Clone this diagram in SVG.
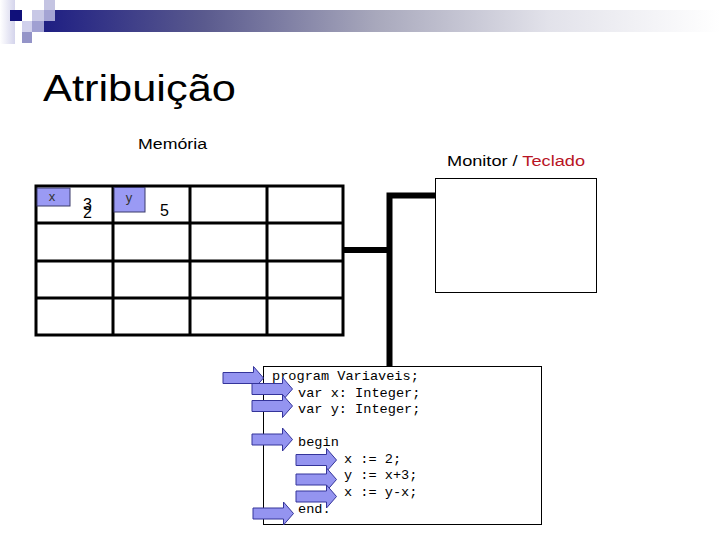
<svg xmlns="http://www.w3.org/2000/svg" xmlns:xlink="http://www.w3.org/1999/xlink" width="720" height="540" viewBox="0 0 720 540">
  <defs>
    <linearGradient id="barGrad" x1="0" y1="0" x2="1" y2="0">
      <stop offset="0" stop-color="#1a1a82"/>
      <stop offset="0.25" stop-color="#5a5a8e"/>
      <stop offset="0.5" stop-color="#a8a8bc"/>
      <stop offset="0.75" stop-color="#e2e2ea"/>
      <stop offset="1" stop-color="#ffffff"/>
    </linearGradient>
    <linearGradient id="stripGrad" x1="0" y1="0" x2="1" y2="0">
      <stop offset="0" stop-color="#ffffff"/>
      <stop offset="1" stop-color="#d4d4ec"/>
    </linearGradient>
    <path id="pcArrow" d="M0,-5.5 H30.5 V-11.5 L40.5,0 L30.5,11.5 V5.5 H0 Z"/>
  </defs>
  <style>
    .sans { font-family: "Liberation Sans", Arial, sans-serif; }
    .mono { font-family: "Liberation Mono", "Courier New", monospace; font-size: 13.6px; fill: #000; }
    .grid { stroke: #000; stroke-width: 3; fill: none; }
    .bus { stroke: #000; stroke-width: 6; fill: none; stroke-linejoin: miter; stroke-linecap: butt; }
    .box { fill: #fff; stroke: #000; stroke-width: 1; }
    .tag { fill: #9a9af4; stroke: #3a3a6a; stroke-width: 1; }
    .arrow { fill: #9494f0; stroke: #34349a; stroke-width: 1; }
  </style>
  <rect width="720" height="540" fill="#fff"/>

  <g id="header">
    <rect x="0" y="0" width="15" height="44" fill="url(#stripGrad)"/>
    <rect x="32" y="10" width="688" height="22" fill="url(#barGrad)"/>
    <rect x="10" y="10" width="12" height="11" fill="#10107a"/>
    <rect x="32" y="10" width="12" height="11" fill="#c8c8e6"/>
    <rect x="44" y="0" width="11" height="10" fill="#c4c4e2"/>
    <rect x="44" y="10" width="11" height="11" fill="#a4a4d4"/>
    <rect x="22" y="21" width="10" height="11" fill="#d0d0ec"/>
    <rect x="32" y="21" width="12" height="11" fill="#a0a0d2"/>
    <rect x="22" y="32" width="10" height="11" fill="#9494c8"/>
  </g>

  <text id="title" class="sans" x="43" y="101" font-size="36" textLength="193" lengthAdjust="spacingAndGlyphs" fill="#000">Atribuição</text>

  <g id="memory">
    <text class="sans" x="138" y="149" font-size="15.5" textLength="69" lengthAdjust="spacingAndGlyphs" fill="#000">Memória</text>
    <rect class="grid" x="36" y="186" width="307" height="149" fill="#fff"/>
    <path class="grid" d="M113,186 V335 M190,186 V335 M267,186 V335 M36,223 H343 M36,261 H343 M36,298 H343"/>
    <g id="var-x">
      <rect class="tag" x="37" y="188" width="33" height="18"/>
      <text class="sans" x="52" y="201" font-size="13" text-anchor="middle" fill="#333">x</text>
      <text class="sans" x="83" y="210" font-size="16" fill="#000">3</text>
      <text class="sans" x="83" y="218" font-size="16" fill="#000">2</text>
    </g>
    <g id="var-y">
      <rect class="tag" x="114" y="187.5" width="31" height="24.5"/>
      <text class="sans" x="129" y="202" font-size="13" text-anchor="middle" fill="#333">y</text>
      <text class="sans" x="160" y="216" font-size="16" fill="#000">5</text>
    </g>
  </g>

  <g id="monitor">
    <text class="sans" x="447" y="166" font-size="15.5" textLength="138" lengthAdjust="spacingAndGlyphs"><tspan fill="#000">Monitor / </tspan><tspan fill="#b81424">Teclado</tspan></text>
    <rect class="box" x="435.5" y="178.5" width="161" height="114"/>
  </g>

  <g id="connectors">
    <path class="bus" d="M343,250 H389.5"/>
    <path class="bus" d="M389.5,366 V195.5 H435"/>
  </g>

  <g id="program">
    <rect class="box" x="263.5" y="366.5" width="278" height="158"/>
    <text class="mono" x="272" y="380">program Variaveis;</text>
    <text class="mono" x="298" y="396.5">var x: Integer;</text>
    <text class="mono" x="298" y="413">var y: Integer;</text>
    <text class="mono" x="298" y="446">begin</text>
    <text class="mono" x="344" y="462.5">x := 2;</text>
    <text class="mono" x="344" y="479">y := x+3;</text>
    <text class="mono" x="344" y="495.5">x := y-x;</text>
    <text class="mono" x="298" y="513">end.</text>
  </g>

  <g id="pc-arrows">
    <use xlink:href="#pcArrow" class="arrow" transform="translate(223,378)"/>
    <use xlink:href="#pcArrow" class="arrow" transform="translate(252,389)"/>
    <use xlink:href="#pcArrow" class="arrow" transform="translate(252,406)"/>
    <use xlink:href="#pcArrow" class="arrow" transform="translate(252,439.5)"/>
    <use xlink:href="#pcArrow" class="arrow" transform="translate(296,460)"/>
    <use xlink:href="#pcArrow" class="arrow" transform="translate(296,479.5)"/>
    <use xlink:href="#pcArrow" class="arrow" transform="translate(296,496.5)"/>
    <use xlink:href="#pcArrow" class="arrow" transform="translate(253,513.5)"/>
  </g>
</svg>
